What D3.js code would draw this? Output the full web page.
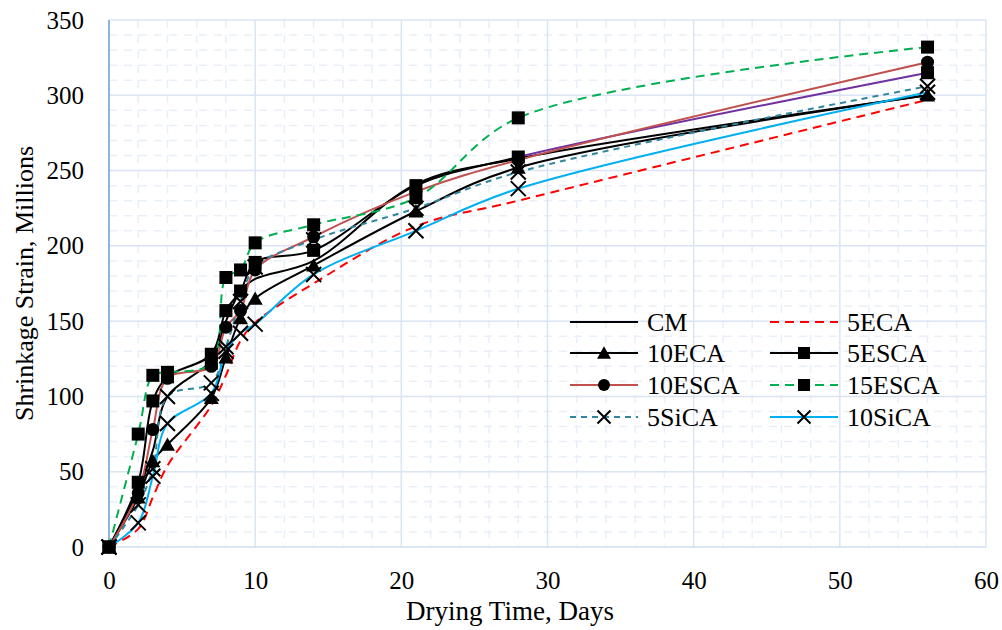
<!DOCTYPE html>
<html>
<head>
<meta charset="utf-8">
<script src="https://cdn.jsdelivr.net/npm/d3@7"></script>
<style>
  body { margin: 0; background: #fff; }
  text { font-family: "Liberation Serif", "Times New Roman", serif; fill: #000; }
</style>
</head>
<body>
<svg width="1002" height="630"></svg>
<script>
// drying days
var days = [0, 2, 3, 4, 7, 8, 9, 10, 14, 21, 28, 56];

// shrinkage strain values (millions)
var cm     = [0, 38, 64, 100, 124, 150, 170, 178, 190, 241, 258, 300];
var eca5   = [0, 12, 33, 54, 94, 114, 137, 149, 175, 213, 230, 297];
var eca10  = [0, 33, 57, 68, 99, 126, 152, 165, 187, 223, 252, 300];
var esca5  = [0, 43, 97, 113, 128, 157, 170, 189, 197, 240, 259, 315];
var esca10 = [0, 36, 78, 112, 120, 146, 157, 184, 206, 236, 257, 322];
var esca15 = [0, 75, 114, 116, 122, 179, 184, 202, 214, 232, 285, 332];
var sica5  = [0, 28, 52, 100, 109, 133, 163, 186, 204, 225, 249, 306];
var sica10 = [0, 16, 47, 82, 102, 130, 142, 148, 181, 210, 238, 302];

var xTicks = [0, 10, 20, 30, 40, 50, 60];
var yTicks = [0, 50, 100, 150, 200, 250, 300, 350];

var series = [
  { name: "CM",     values: cm,     color: "#000000", dash: null,  marker: null },
  { name: "5ECA",   values: eca5,   color: "#ff0000", dash: "9,6", marker: null },
  { name: "10ECA",  values: eca10,  color: "#000000", dash: null,  marker: "triangle" },
  { name: "5ESCA",  values: esca5,  color: "#000000", dash: null,  marker: "square", tail: "#7030a0" },
  { name: "10ESCA", values: esca10, color: "#c0504d", dash: null,  marker: "circle" },
  { name: "15ESCA", values: esca15, color: "#00b050", dash: "9,6", marker: "square" },
  { name: "5SiCA",  values: sica5,  color: "#31859c", dash: "6,5", marker: "x" },
  { name: "10SiCA", values: sica10, color: "#00b0f0", dash: null,  marker: "x" }
];

var svg = d3.select("svg");
var pLeft = 109, pRight = 986, pTop = 20, pBottom = 547;

var x = d3.scaleLinear().domain([0, 60]).range([pLeft, pRight]);
var y = d3.scaleLinear().domain([0, 350]).range([pBottom, pTop]);

// minor grid (dashed)
var g = svg.append("g");
g.selectAll(".vminor")
  .data(d3.range(2, 60, 2).filter(function(d) { return d % 10 != 0; }))
  .enter().append("line")
    .attr("x1", function(d) { return x(d); })
    .attr("x2", function(d) { return x(d); })
    .attr("y1", pTop).attr("y2", pBottom)
    .style("stroke", "#e9eff8").style("stroke-width", 1.5)
    .style("stroke-dasharray", "8,7");
g.selectAll(".hminor")
  .data(d3.range(10, 350, 10).filter(function(d) { return d % 50 != 0; }))
  .enter().append("line")
    .attr("x1", pLeft).attr("x2", pRight)
    .attr("y1", function(d) { return y(d); })
    .attr("y2", function(d) { return y(d); })
    .style("stroke", "#e9eff8").style("stroke-width", 1.5)
    .style("stroke-dasharray", "8,7");

// major grid
g.selectAll(".vmajor")
  .data(xTicks.slice(1))
  .enter().append("line")
    .attr("x1", function(d) { return x(d); })
    .attr("x2", function(d) { return x(d); })
    .attr("y1", pTop).attr("y2", pBottom)
    .style("stroke", "#d9e4f4").style("stroke-width", 1.5);
g.selectAll(".hmajor")
  .data(yTicks.slice(1))
  .enter().append("line")
    .attr("x1", pLeft).attr("x2", pRight)
    .attr("y1", function(d) { return y(d); })
    .attr("y2", function(d) { return y(d); })
    .style("stroke", "#d9e4f4").style("stroke-width", 1.5);

// axis lines
svg.append("line").attr("x1", pLeft).attr("x2", pRight).attr("y1", pBottom).attr("y2", pBottom)
  .style("stroke", "#d0def2").style("stroke-width", 1.5);
svg.append("line").attr("x1", pLeft).attr("x2", pLeft).attr("y1", pTop).attr("y2", pBottom)
  .style("stroke", "#8eb4e3").style("stroke-width", 2);

// tick labels
var xAxis = d3.axisBottom(x).tickValues(xTicks).tickSize(0).tickPadding(24);
var xg = svg.append("g").attr("transform", "translate(0," + pBottom + ")").call(xAxis);
var yAxis = d3.axisLeft(y).tickValues(yTicks).tickSize(0).tickPadding(25);
var yg = svg.append("g").attr("transform", "translate(" + pLeft + ",0)").call(yAxis);
[xg, yg].forEach(function(a) {
  a.select(".domain").remove();
  a.selectAll("text").style("font-family", "'Liberation Serif', serif").style("font-size", "25px").style("fill", "#000");
});

// axis titles
svg.append("text").attr("x", 510).attr("y", 620).attr("text-anchor", "middle")
  .style("font-size", "27px").text("Drying Time, Days");
svg.append("text").attr("transform", "translate(33," + ((pTop + pBottom) / 2) + ") rotate(-90)")
  .attr("text-anchor", "middle").style("font-size", "26px").text("Shrinkage Strain, Millions");

var line = d3.line()
  .x(function(d) { return x(d[0]); })
  .y(function(d) { return y(d[1]); })
  .curve(d3.curveCatmullRom.alpha(0.5));

// clip paths so 5ESCA's last segment can be drawn purple
svg.append("clipPath").attr("id", "headClip").append("rect")
  .attr("x", 0).attr("y", 0).attr("width", x(28)).attr("height", 630);
svg.append("clipPath").attr("id", "tailClip").append("rect")
  .attr("x", x(28)).attr("y", 0).attr("width", 1002).attr("height", 630);

function drawMarker(sel, type, size) {
  if (type == "square") {
    sel.append("rect").attr("x", -size / 2).attr("y", -size / 2)
      .attr("width", size).attr("height", size).style("fill", "#000");
  } else if (type == "circle") {
    sel.append("circle").attr("r", size / 2).style("fill", "#000");
  } else if (type == "triangle") {
    var h = size * 0.95;
    sel.append("path").attr("d", "M0," + (-h / 2 - 1) + "L" + (size / 2 + 1) + "," + (h / 2) + "L" + (-size / 2 - 1) + "," + (h / 2) + "Z")
      .style("fill", "#000");
  } else if (type == "x") {
    var s = size / 2;
    sel.append("path").attr("d", "M" + (-s) + "," + (-s) + "L" + s + "," + s + "M" + (-s) + "," + s + "L" + s + "," + (-s))
      .style("stroke", "#000").style("stroke-width", 2).style("fill", "none");
  }
}

var lines = svg.append("g");
series.forEach(function(s) {
  var pts = days.map(function(d, i) { return [d, s.values[i]]; });
  if (s.tail) {
    lines.append("path").attr("d", line(pts)).attr("clip-path", "url(#headClip)")
      .style("fill", "none").style("stroke", s.color).style("stroke-width", 2);
    lines.append("path").attr("d", line(pts)).attr("clip-path", "url(#tailClip)")
      .style("fill", "none").style("stroke", s.tail).style("stroke-width", 2);
  } else {
    lines.append("path").attr("d", line(pts))
      .style("fill", "none").style("stroke", s.color).style("stroke-width", 2)
      .style("stroke-dasharray", s.dash);
  }
});

// markers on top
series.forEach(function(s) {
  if (!s.marker) return;
  var pts = days.map(function(d, i) { return [d, s.values[i]]; });
  lines.selectAll(null).data(pts).enter().append("g")
    .attr("transform", function(d) { return "translate(" + x(d[0]) + "," + y(d[1]) + ")"; })
    .each(function() { drawMarker(d3.select(this), s.marker, s.marker == "x" ? 15 : 13); });
});

// legend
var legendX = [570, 770], legendY = [322, 353, 385, 417];
var leg = svg.append("g");
series.forEach(function(s, i) {
  var lx = legendX[i % 2], ly = legendY[Math.floor(i / 2)];
  var it = leg.append("g").attr("transform", "translate(" + lx + "," + ly + ")");
  it.append("line").attr("x1", 0).attr("x2", 68).attr("y1", 0).attr("y2", 0)
    .style("stroke", s.color).style("stroke-width", 2).style("stroke-dasharray", s.dash);
  if (s.marker) {
    var m = it.append("g").attr("transform", "translate(34,0)");
    drawMarker(m, s.marker, s.marker == "x" ? 13 : 12);
  }
  it.append("text").attr("x", 77).attr("y", 9).style("font-size", "26px").text(s.name);
});
</script>
</body>
</html>
